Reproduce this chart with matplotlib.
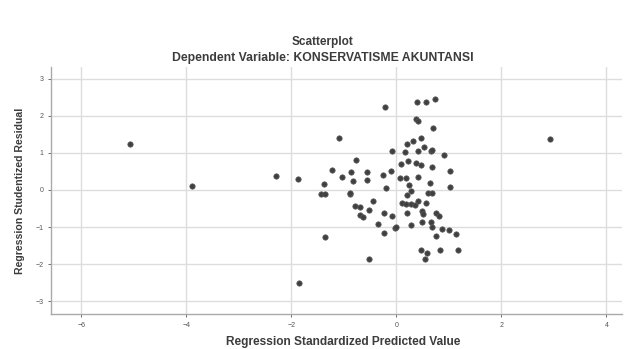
import numpy as np
import matplotlib
matplotlib.use("Agg")
import matplotlib.pyplot as plt

plt.rcParams['font.family'] = ['Liberation Sans', 'DejaVu Sans']

# standardized predicted value (x) / studentized residual (y)
pred = [-5.07, -3.90, -2.30, -1.87, -1.85, 2.92,
        -0.21, 0.39, 0.57, 0.74, 0.37, 0.42, 0.70, -1.09, 0.20, 0.32,
        0.46, -0.08, 0.16, 0.41, 0.53, 0.66, 0.68, 0.91, -0.76, 0.09,
        0.22, 0.37, 0.46, 0.67, -1.23, -0.86, -0.55, -0.11, -0.26, 1.03,
        -1.03, -0.83, -0.55, 0.06, 0.19, 0.41, -1.37, 0.65, 0.25, -0.20,
        1.02, 0.28, -1.43, -1.35, -0.88, -0.88, 0.61, 0.67, 0.20, -0.44,
        0.11, 0.19, 0.28, 0.36, 0.41, 0.57, -0.78, -0.69, -0.53, 0.49,
        -0.70, -0.63, -0.23, -0.08, 0.20, 0.50, 0.76, 0.81, -0.35, -0.03,
        0.28, 0.49, 0.66, 0.67, 0.87, 1.01, 1.14, 0.75, -0.23, -1.35,
        0.46, 0.59, 0.54, 0.84, 1.18, -0.53, 0.00]
resid = [1.24, 0.11, 0.38, 0.30, -2.52, 1.38,
         2.25, 2.37, 2.37, 2.46, 1.92, 1.86, 1.67, 1.41, 1.25, 1.31,
         1.41, 1.05, 1.03, 1.06, 1.15, 1.05, 1.08, 0.94, 0.82, 0.70,
         0.78, 0.72, 0.67, 0.61, 0.53, 0.49, 0.49, 0.50, 0.41, 0.50,
         0.34, 0.24, 0.26, 0.32, 0.32, 0.36, 0.17, 0.19, 0.14, 0.05,
         0.07, -0.02, -0.10, -0.11, -0.11, -0.07, -0.07, -0.07, -0.14, -0.29,
         -0.35, -0.37, -0.38, -0.41, -0.29, -0.34, -0.43, -0.45, -0.54, -0.56,
         -0.68, -0.74, -0.61, -0.69, -0.61, -0.66, -0.61, -0.71, -0.92, -1.03,
         -0.95, -0.86, -0.86, -1.00, -1.05, -1.07, -1.18, -1.23, -1.16, -1.28,
         -1.61, -1.71, -1.86, -1.61, -1.63, -1.86, -1.01]

xticks = [-6, -4, -2, 0, 2, 4]
yticks = [-3, -2, -1, 0, 1, 2, 3]

fig = plt.figure(figsize=(6.29, 3.49), dpi=100)
ax = fig.add_axes([0.081, 0.100, 0.908, 0.708])

ax.scatter(pred, resid, s=15, color='#404040', edgecolors='#5a5a5a', linewidths=0.5, zorder=3)

ax.set_xlim(-6.58, 4.3)
ax.set_ylim(-3.35, 3.32)
ax.set_xticks(xticks)
ax.set_yticks(yticks)
ax.tick_params(labelsize=5, colors='#555555', length=2, width=0.6)
ax.grid(True, color='#dddddd', linewidth=1.0, zorder=0)
ax.set_axisbelow(True)
for s in ['top', 'right']:
    ax.spines[s].set_visible(False)
for s in ['left', 'bottom']:
    ax.spines[s].set_color('#aaaaaa')
    ax.spines[s].set_linewidth(1.0)

ax.set_xlabel('Regression Standardized Predicted Value', fontsize=8.6, fontweight='bold',
              color='#3c3c3c', va='center')
ax.xaxis.set_label_coords(0.511, -0.113)
ax.set_ylabel('Regression Studentized Residual', fontsize=7.6, fontweight='bold',
              color='#3c3c3c', va='center')
ax.yaxis.set_label_coords(-0.054, 0.498)

fig.text(0.513, 0.880, 'Scatterplot', ha='center', va='center', fontsize=8.5,
         fontweight='bold', color='#3c3c3c')
fig.text(0.513, 0.834, 'Dependent Variable: KONSERVATISME AKUNTANSI', ha='center',
         va='center', fontsize=8.8, fontweight='bold', color='#3c3c3c')

fig.savefig('out.png', dpi=100)
